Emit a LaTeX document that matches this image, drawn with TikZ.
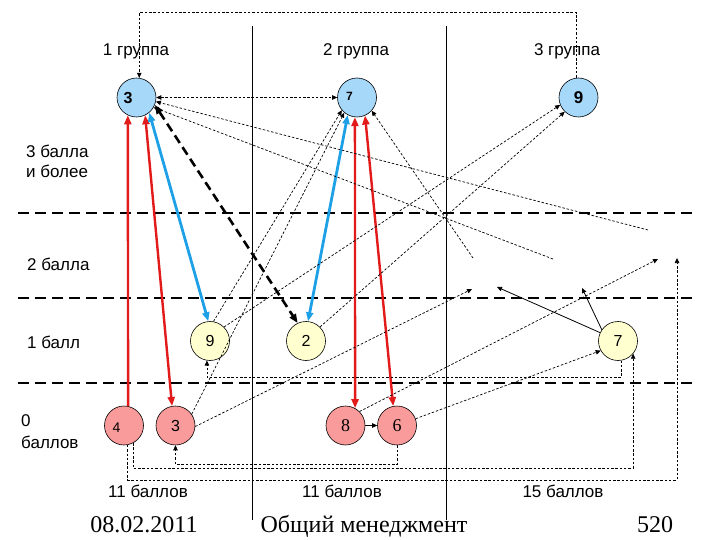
\documentclass[tikz,border=0pt]{standalone}
\usepackage{fontspec}
\setmainfont{Liberation Sans}
\newfontfamily\seriffam{Liberation Serif}
\usetikzlibrary{arrows.meta}
\definecolor{nodeblue}{RGB}{166,216,250}
\definecolor{nodecream}{RGB}{255,255,208}
\definecolor{nodepink}{RGB}{250,155,155}
\definecolor{lred}{RGB}{226,26,26}
\definecolor{lblue}{RGB}{30,160,230}
\begin{document}
\begin{tikzpicture}[x=1pt,y=-1pt,
  nodebase/.style={circle,draw,line width=0.6pt,minimum size=39pt,inner sep=0pt,font=\fontsize{16}{16}\selectfont},
  bnode/.style={nodebase,fill=nodeblue},
  cnode/.style={nodebase,fill=nodecream},
  rnode/.style={nodebase,fill=nodepink},
  lbl/.style={font=\fontsize{17}{20}\selectfont,inner sep=0pt},
  foot/.style={font=\seriffam\fontsize{24}{24}\selectfont,inner sep=0pt,anchor=base},
  sep/.style={line width=2.2pt,dash pattern=on 11pt off 6pt},
  vline/.style={line width=0.7pt},
  redthick/.style={draw=lred,line width=2.4pt},
  bluethick/.style={draw=lblue,line width=2.8pt},
  blackdash/.style={line width=2.6pt,dash pattern=on 9pt off 5pt},
  thin/.style={line width=0.7pt,dash pattern=on 2.5pt off 1.8pt},
  solidthin/.style={line width=0.8pt},
  bigtip/.tip={Triangle[length=9pt,width=7pt]},
  smalltip/.tip={Triangle[length=5pt,width=4.5pt]}
]
\useasboundingbox (0,0) rectangle (720,540);

% separators
\draw[vline] (252,26) -- (252,520);
\draw[vline] (446,26) -- (446,520);
\draw[sep] (18,213) -- (692,213);
\draw[sep] (18,298) -- (692,298);
\draw[sep] (18,383) -- (692,383);

% labels
\node[lbl] at (136,51) {1 группа};
\node[lbl] at (356,51) {2 группа};
\node[lbl] at (567,51) {3 группа};
\node[lbl,align=left,anchor=west] at (26,161) {3 балла\\и более};
\node[lbl,anchor=west] at (27,264) {2 балла};
\node[lbl,anchor=west] at (27,342) {1 балл};
\node[lbl,align=left,anchor=west,font=\fontsize{17}{22}\selectfont] at (21,432) {0\\баллов};
\node[lbl] at (148,491) {11 баллов};
\node[lbl] at (342,491) {11 баллов};
\node[lbl] at (563,491) {15 баллов};
\node[foot] at (144,532) {08.02.2011};
\node[foot] at (364,532) {Общий менеджмент};
\node[foot] at (655,532) {520};

% nodes
\node[bnode] (A3) at (136.5,97.5) {};
\node[font=\bfseries\fontsize{16}{16}\selectfont] at (128,98.5) {3};
\node[bnode] (B7) at (357,97.5) {};
\node[font=\bfseries\fontsize{12}{12}\selectfont] at (349.5,96) {7};
\node[bnode,font=\bfseries\fontsize{17}{17}\selectfont] (C9) at (578.5,97.5) {9};
\node[cnode] (Y9) at (210,341) {9};
\node[cnode] (Y2) at (306,341) {2};
\node[cnode] (Y7) at (618,341) {7};
\node[rnode] (R4) at (124,425.5) {};
\node[font=\fontsize{14}{14}\selectfont] at (116.5,428) {4};
\node[rnode] (R3) at (175.5,425.5) {3};
\node[rnode,font=\seriffam\fontsize{18}{18}\selectfont] (R8) at (345.5,425.5) {8};
\node[rnode,font=\seriffam\fontsize{18}{18}\selectfont] (R6) at (397,425.5) {6};

% free ends
\coordinate (e1) at (553,259);
\coordinate (e2) at (648,230);
\coordinate (e3) at (473,258);
\coordinate (e4) at (472,289);
\coordinate (e5) at (658,259);
\coordinate (e6) at (497,287);
\coordinate (e7) at (582,288);
\coordinate (e8) at (677,258);

% thick connectors
\draw[redthick,-bigtip] (R4.78) -- (A3.-116);
\draw[redthick,bigtip-bigtip] (A3.-64) -- (R3.100);
\draw[redthick,bigtip-bigtip] (B7.-96) -- (R8.61);
\draw[redthick,bigtip-bigtip] (B7.-66) -- (R6.101);
\draw[bluethick,bigtip-bigtip] (A3.-50) -- (Y9.95);
\draw[bluethick,bigtip-bigtip] (B7.-118) -- (Y2.84);
\draw[blackdash,bigtip-bigtip] (A3.-22) -- (Y2.115);

% thin dashed connectors
\draw[thin,smalltip-smalltip] (A3.east) -- (B7.west);
\draw[thin,-smalltip] (C9.95) -- ++(0,-65) -| (A3.82);
\draw[thin,-smalltip] (e2) -- (A3.-12);
\draw[thin,-smalltip] (e1) -- (A3.-30);
\draw[thin,-smalltip] (e3) -- (B7.-42);
\draw[thin,-smalltip] (Y9.80) -- (B7.-140);
\draw[thin,-smalltip] (R3.35) -- (B7.-130);
\draw[thin,-smalltip] (R3.-3) -- (e4);
\draw[thin,-smalltip] (Y9.45) -- (C9.-158);
\draw[thin,-smalltip] (Y2.45) -- (C9.-134);
\draw[thin,-smalltip] (R8.45) -- (e5);
\draw[thin,-smalltip] (R6.20) -- (Y7.-151);
\draw[thin,-smalltip] (Y7.-81) -- ++(0,17) -| (Y9.-99);
\draw[thin,-smalltip] (R6.south) -- ++(0,19) -| (R3.south);
\draw[thin,-smalltip] (R4.-63) -- ++(0,25) -| (Y7.-40);
\draw[thin,-smalltip] (R4.-79) -- ++(0,35) -| (e8);

% thin solid connectors
\draw[solidthin,-smalltip] (R8.east) -- (R6.west);
\draw[solidthin,-smalltip] (Y7.155) -- (e6);
\draw[solidthin,-smalltip] (Y7.145) -- (e7);
\end{tikzpicture}
\end{document}
